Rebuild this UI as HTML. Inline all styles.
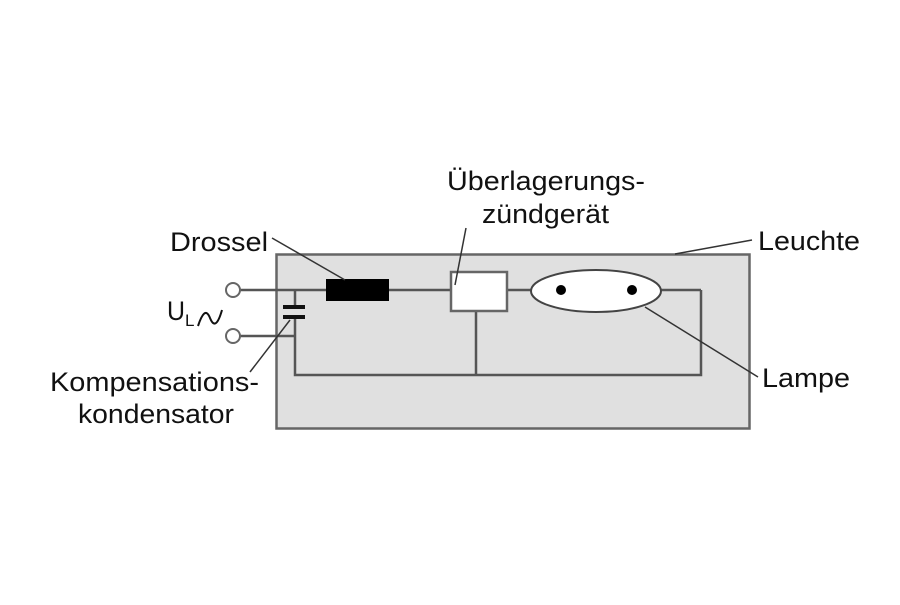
<!DOCTYPE html>
<html><head><meta charset="utf-8"><style>
html,body{margin:0;padding:0;background:#fff;}
svg text{font-family:"Liberation Sans",sans-serif;font-size:27px;fill:#111;}
</style></head><body>
<svg width="900" height="600" viewBox="0 0 900 600" xmlns="http://www.w3.org/2000/svg">
<rect x="276.5" y="254.5" width="473" height="174" fill="#e0e0e0" stroke="#666" stroke-width="2.5"/>
<g stroke="#555" stroke-width="2.5" fill="none">
<line x1="240" y1="290" x2="326" y2="290"/>
<line x1="389" y1="290" x2="450" y2="290"/>
<line x1="507" y1="290" x2="531" y2="290"/>
<line x1="661" y1="290" x2="701" y2="290"/>
<polyline points="701,290 701,375 295,375 295,317"/>
<line x1="295" y1="290" x2="295" y2="307"/>
<line x1="240" y1="336" x2="295" y2="336"/>
<line x1="476" y1="311" x2="476" y2="375"/>
</g>
<circle cx="233" cy="290" r="7" fill="#fff" stroke="#666" stroke-width="2"/>
<circle cx="233" cy="336" r="7" fill="#fff" stroke="#666" stroke-width="2"/>
<rect x="283" y="305" width="22" height="4" fill="#111"/>
<rect x="283" y="315" width="22" height="4" fill="#111"/>
<rect x="326" y="279" width="63" height="22" fill="#000"/>
<rect x="451" y="272" width="56" height="39" fill="#fff" stroke="#666" stroke-width="2.5"/>
<ellipse cx="596" cy="291" rx="65" ry="21" fill="#fff" stroke="#444" stroke-width="2"/>
<circle cx="561" cy="290" r="5" fill="#000"/>
<circle cx="632" cy="290" r="5" fill="#000"/>
<g stroke="#333" stroke-width="1.5">
<line x1="272" y1="238" x2="345" y2="280"/>
<line x1="466" y1="228" x2="455" y2="285"/>
<line x1="752" y1="240" x2="675" y2="254"/>
<line x1="645" y1="307" x2="758" y2="377"/>
<line x1="250" y1="372" x2="290" y2="320"/>
</g>
<path d="M198,326 C202,314 206,308 210,318 C214,328 218,324 222,310" fill="none" stroke="#111" stroke-width="2"/>
<text x="167" y="320" textLength="18" lengthAdjust="spacingAndGlyphs">U</text><text x="185" y="326" style="font-size:17px">L</text>
<text x="170" y="251" textLength="98" lengthAdjust="spacingAndGlyphs">Drossel</text>
<text x="447" y="190" textLength="198" lengthAdjust="spacingAndGlyphs">Überlagerungs-</text>
<text x="482" y="223" textLength="127" lengthAdjust="spacingAndGlyphs">zündgerät</text>
<text x="758" y="250" textLength="102" lengthAdjust="spacingAndGlyphs">Leuchte</text>
<text x="762" y="387" textLength="88" lengthAdjust="spacingAndGlyphs">Lampe</text>
<text x="50" y="391" textLength="209" lengthAdjust="spacingAndGlyphs">Kompensations-</text>
<text x="78" y="423" textLength="156" lengthAdjust="spacingAndGlyphs">kondensator</text>
</svg>
</body></html>
